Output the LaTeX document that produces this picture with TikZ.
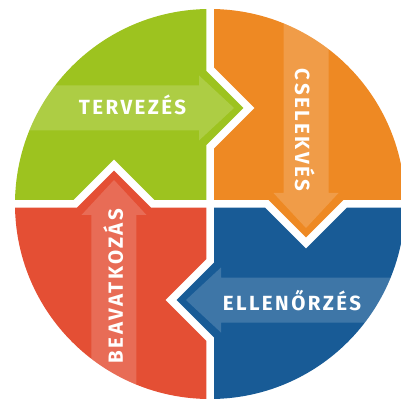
\documentclass[tikz,border=0pt]{standalone}
\usepackage{fontspec}
\usepackage{tikz}
\newfontfamily\labelfont{Fira Sans}[LetterSpace=12]
\definecolor{plangreen}{HTML}{9DC31F}
\definecolor{doorange}{HTML}{EE8923}
\definecolor{checkblue}{HTML}{185B96}
\definecolor{actred}{HTML}{E44F34}

\begin{document}
\begin{tikzpicture}[
        x=1pt, y=1pt,
        lbl/.style={text=white, font=\labelfont\bfseries\fontsize{20.5}{20.5}\selectfont, inner sep=0pt, anchor=base},
        band/.style={fill=white, fill opacity=0.17},
        gap/.style={draw=white, line width=7.5pt, line join=miter}
    ]
        \useasboundingbox (-210,-197) rectangle (191,204);

        \pgfmathsetmacro{\R}{195}
        \pgfmathsetmacro{\D}{96}
        \pgfmathsetmacro{\T}{39}

        \coordinate (O) at (0, 0);

        \fill[plangreen] (O) -- (0,\D-\T) -- (\T,\D) -- (0,\D+\T) -- (0,\R) arc[start angle=90, end angle=180, radius=\R] -- (-\D-\T,0) -- (-\D,\T) -- (-\D+\T,0) -- cycle;
        \fill[doorange] (O) -- (\D-\T,0) -- (\D,-\T) -- (\D+\T,0) -- (\R,0) arc[start angle=0, end angle=90, radius=\R] -- (0,\D+\T) -- (\T,\D) -- (0,\D-\T) -- cycle;
        \fill[checkblue] (O) -- (0,-\D+\T) -- (-\T,-\D) -- (0,-\D-\T) -- (0,-\R) arc[start angle=270, end angle=360, radius=\R] -- (\D+\T,0) -- (\D,-\T) -- (\D-\T,0) -- cycle;
        \fill[actred] (O) -- (-\D+\T,0) -- (-\D,\T) -- (-\D-\T,0) -- (-\R,0) arc[start angle=180, end angle=270, radius=\R] -- (0,-\D-\T) -- (-\T,-\D) -- (0,-\D+\T) -- cycle;

        % light arrows
        \begin{scope}
            \clip (O) circle (\R);
            \fill[band] (-\R,\D-22.5) -- (-11,\D-22.5) -- (-11,\D-32.5) -- (24,\D) -- (-11,\D+32.5) -- (-11,\D+22.5) -- (-\R,\D+22.5) -- cycle;
            \fill[band] (\D-22.5,\R) -- (\D-22.5,11) -- (\D-32.5,11) -- (\D,-24) -- (\D+32.5,11) -- (\D+22.5,11) -- (\D+22.5,\R) -- cycle;
            \fill[band] (\R,-\D+22.5) -- (11,-\D+22.5) -- (11,-\D+32.5) -- (-24,-\D) -- (11,-\D-32.5) -- (11,-\D-22.5) -- (\R,-\D-22.5) -- cycle;
            \fill[band] (-\D-22.5,-\R) -- (-\D-22.5,-11) -- (-\D-32.5,-11) -- (-\D,24) -- (-\D+32.5,-11) -- (-\D+22.5,-11) -- (-\D+22.5,-\R) -- cycle;
        \end{scope}

        \draw[gap] (0,\R+5) -- (0,\D+\T) -- (\T,\D) -- (0,\D-\T) -- (0,-\D+\T) -- (-\T,-\D) -- (0,-\D-\T) -- (0,-\R-5);
        \draw[gap] (-\R-5,0) -- (-\D-\T,0) -- (-\D,\T) -- (-\D+\T,0) -- (\D-\T,0) -- (\D,-\T) -- (\D+\T,0) -- (\R+5,0);

        \node[lbl] (tervezes) at (-77.5,89) {TERVEZÉS};
        \node[lbl, rotate=-90] (cselekves) at (85,74) {CSELEKVÉS};
        \node[lbl] (ellenorzes) at (82,-106) {ELLENŐRZÉS};
        \node[lbl, rotate=90] (beavatkozas) at (-87,-82) {BEAVATKOZÁS};

    \end{tikzpicture}
\end{document}
